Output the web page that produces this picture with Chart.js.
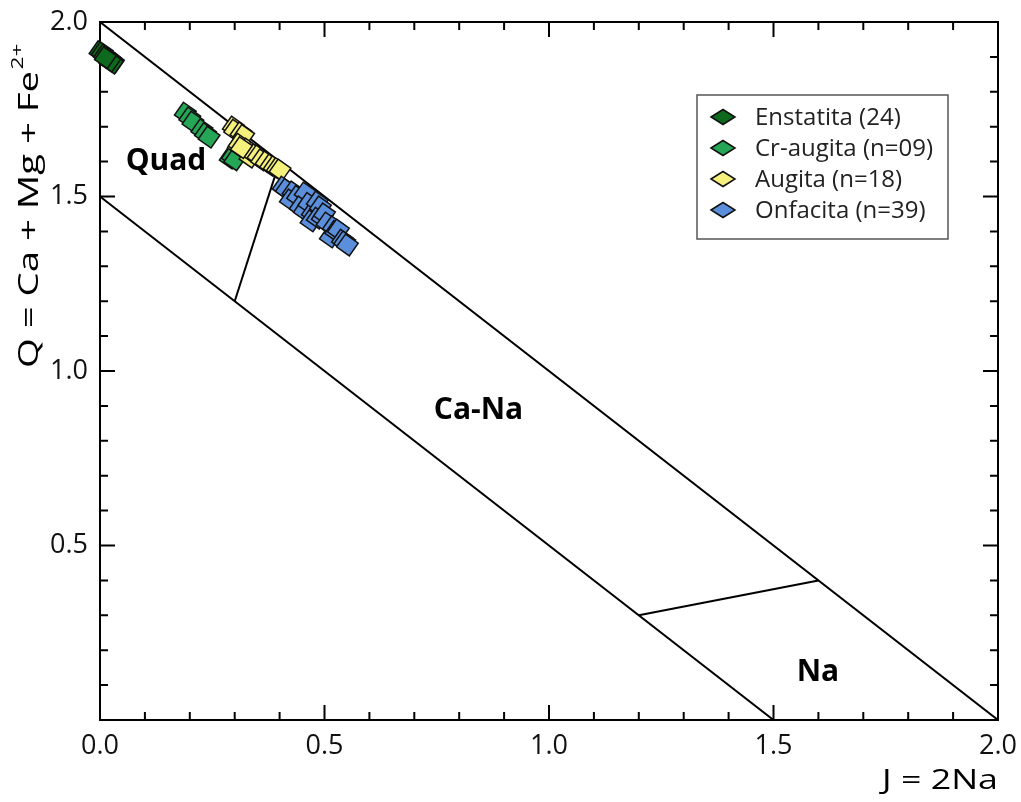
<!DOCTYPE html>
<html>
<head>
<meta charset="utf-8">
<script src="https://cdn.jsdelivr.net/npm/chart.js@4.4.0/dist/chart.umd.min.js"></script>
<style>
  html, body { margin: 0; padding: 0; background: #fff; }
  #wrap { width: 1021px; height: 802px; }
</style>
</head>
<body>
<div id="wrap"><canvas id="chart" width="1021" height="802"></canvas></div>
<script>
// J = 2Na (x), Q = Ca + Mg + Fe2+ (y)
const enstatitaJ = [0.000, 0.005, 0.010, 0.015, 0.020, 0.025, 0.030, 0.028, 0.022, 0.012];
const enstatitaQ = [1.915, 1.912, 1.905, 1.900, 1.895, 1.890, 1.885, 1.882, 1.888, 1.898];

const crAugitaJ = [0.190, 0.200, 0.207, 0.227, 0.235, 0.243, 0.290, 0.295, 0.300];
const crAugitaQ = [1.739, 1.725, 1.713, 1.691, 1.680, 1.670, 1.610, 1.615, 1.605];

const augitaJ = [0.297, 0.300, 0.314, 0.320, 0.308, 0.310, 0.328, 0.334, 0.340, 0.345, 0.352, 0.360, 0.370, 0.380, 0.388, 0.395, 0.401, 0.315];
const augitaQ = [1.699, 1.690, 1.682, 1.675, 1.645, 1.650, 1.636, 1.613, 1.625, 1.620, 1.616, 1.605, 1.599, 1.590, 1.585, 1.580, 1.576, 1.640];

const onfacitaJ = [0.408, 0.415, 0.430, 0.424, 0.440, 0.457, 0.446, 0.455, 0.465, 0.473, 0.470, 0.484, 0.491, 0.484, 0.495, 0.500, 0.506, 0.513, 0.520, 0.525, 0.531, 0.540, 0.545, 0.551];
const onfacitaQ = [1.527, 1.520, 1.513, 1.490, 1.500, 1.510, 1.470, 1.460, 1.480, 1.453, 1.430, 1.484, 1.470, 1.438, 1.440, 1.450, 1.424, 1.384, 1.413, 1.400, 1.404, 1.375, 1.370, 1.361];

const seriesNames = ["Enstatita (24)", "Cr-augita (n=09)", "Augita (n=18)", "Onfacita (n=39)"];
const seriesColors = ["#0d6a1c", "#25a657", "#f6f17c", "#5b8fdb"];

// field boundaries, [J, Q] end points
const boundaries = [
  [[0, 2.0], [2.0, 0]],
  [[0, 1.5], [1.5, 0]],
  [[0.3, 1.2], [0.4, 1.6]],
  [[1.2, 0.3], [1.6, 0.4]]
];

const fieldNames = ["Quad", "Ca-Na", "Na"];
const fieldAt = [[0.147, 1.60], [0.843, 0.888], [1.599, 0.135]];

const tickFont = { family: "'Open Sans'", size: 27 };

function pts(js, qs) {
  return js.map((j, i) => ({ x: j, y: qs[i] }));
}

const lineSets = boundaries.map(b => ({
  type: "line",
  data: b.map(p => ({ x: p[0], y: p[1] })),
  borderColor: "#000",
  borderWidth: 2,
  pointRadius: 0,
  fill: false,
  order: 10
}));

const pointSets = [
  [enstatitaJ, enstatitaQ],
  [crAugitaJ, crAugitaQ],
  [augitaJ, augitaQ],
  [onfacitaJ, onfacitaQ]
].map((s, i) => ({
  label: seriesNames[i],
  data: pts(s[0], s[1]),
  backgroundColor: seriesColors[i],
  borderColor: "#111",
  borderWidth: 1.5,
  pointStyle: "rect",
  rotation: 35,
  pointRadius: 11,
  clip: false,
  order: 4 - i
}));

function noPad(s) {
  s.paddingLeft = 0;
  s.paddingRight = 0;
  s.paddingTop = 0;
  s.paddingBottom = 0;
}

const frame = {
  id: "frame",
  beforeDatasetsDraw(chart) {
    const c = chart.ctx, a = chart.chartArea;
    const xs = chart.scales.x, ys = chart.scales.y;
    c.save();
    c.strokeStyle = "#000";
    c.lineWidth = 2;
    c.strokeRect(a.left, a.top, a.right - a.left, a.bottom - a.top);
    c.beginPath();
    for (let i = 1; i < 20; i++) {
      const v = i / 10;
      const len = i % 5 === 0 ? 15 : 8;
      const px = xs.getPixelForValue(v);
      const py = ys.getPixelForValue(v);
      c.moveTo(px, a.bottom); c.lineTo(px, a.bottom - len);
      c.moveTo(px, a.top); c.lineTo(px, a.top + len);
      c.moveTo(a.left, py); c.lineTo(a.left + len, py);
      c.moveTo(a.right, py); c.lineTo(a.right - len, py);
    }
    c.stroke();
    c.restore();
  },
  afterDraw(chart) {
    const c = chart.ctx, a = chart.chartArea;
    const xs = chart.scales.x, ys = chart.scales.y;
    c.save();
    c.fillStyle = "#000";

    // field labels
    c.font = "bold 30px 'Open Sans'";
    c.textAlign = "center";
    c.textBaseline = "middle";
    fieldNames.forEach((n, i) => {
      c.fillText(n, xs.getPixelForValue(fieldAt[i][0]), ys.getPixelForValue(fieldAt[i][1]));
    });

    // x title
    c.font = "28px 'Open Sans'";
    c.textAlign = "left";
    c.textBaseline = "middle";
    const xt = "J = 2Na";
    const xw = c.measureText(xt).width;
    c.save();
    c.translate(a.right - 116, 781);
    c.scale(116 / xw, 1);
    c.fillText(xt, 0, 0);
    c.restore();

    // y title with superscript
    const yt = "Q = Ca + Mg + Fe";
    c.font = "27px 'Open Sans'";
    const w1 = c.measureText(yt).width;
    c.font = "16px 'Open Sans'";
    const w2 = c.measureText("2+").width;
    const k = 323 / (w1 + w2);
    c.save();
    c.translate(30, 368);
    c.rotate(-Math.PI / 2);
    c.scale(k, 1);
    c.font = "27px 'Open Sans'";
    c.fillText(yt, 0, 0);
    c.font = "16px 'Open Sans'";
    c.fillText("2+", w1 + 1, -12);
    c.restore();

    // legend
    const lx = 697, ly = 95, lw = 251, lh = 144;
    c.fillStyle = "#fff";
    c.fillRect(lx, ly, lw, lh);
    c.strokeStyle = "#555";
    c.lineWidth = 1.5;
    c.strokeRect(lx, ly, lw, lh);
    c.font = "24px 'Open Sans'";
    c.textAlign = "left";
    c.textBaseline = "middle";
    seriesNames.forEach((n, i) => {
      const cy = ly + 22 + i * 31;
      const cx = lx + 26;
      c.beginPath();
      c.moveTo(cx - 12, cy);
      c.lineTo(cx, cy - 7.5);
      c.lineTo(cx + 12, cy);
      c.lineTo(cx, cy + 7.5);
      c.closePath();
      c.fillStyle = seriesColors[i];
      c.fill();
      c.strokeStyle = "#111";
      c.lineWidth = 1.5;
      c.stroke();
      c.fillStyle = "#222";
      c.fillText(n, lx + 58, cy + 1);
    });
    c.restore();
  }
};

new Chart(document.getElementById("chart"), {
  type: "scatter",
  data: { datasets: lineSets.concat(pointSets) },
  options: {
    responsive: false,
    animation: false,
    devicePixelRatio: 1,
    layout: { padding: { top: 22, right: 23, left: 0, bottom: 0 } },
    plugins: {
      legend: { display: false },
      tooltip: { enabled: false }
    },
    scales: {
      x: {
        type: "linear",
        min: 0,
        max: 2,
        ticks: {
          stepSize: 0.5,
          color: "#111",
          font: tickFont,
          padding: 10,
          maxRotation: 0,
          callback: v => v.toFixed(1)
        },
        grid: { display: false, drawTicks: false },
        border: { display: false },
        afterFit: s => { s.height = 82; noPad(s); }
      },
      y: {
        type: "linear",
        min: 0,
        max: 2,
        ticks: {
          stepSize: 0.5,
          color: "#111",
          font: tickFont,
          padding: 12,
          callback: v => (v === 0 ? "" : v.toFixed(1))
        },
        grid: { display: false, drawTicks: false },
        border: { display: false },
        afterFit: s => { s.width = 100; noPad(s); }
      }
    }
  },
  plugins: [frame]
});
</script>
</body>
</html>
